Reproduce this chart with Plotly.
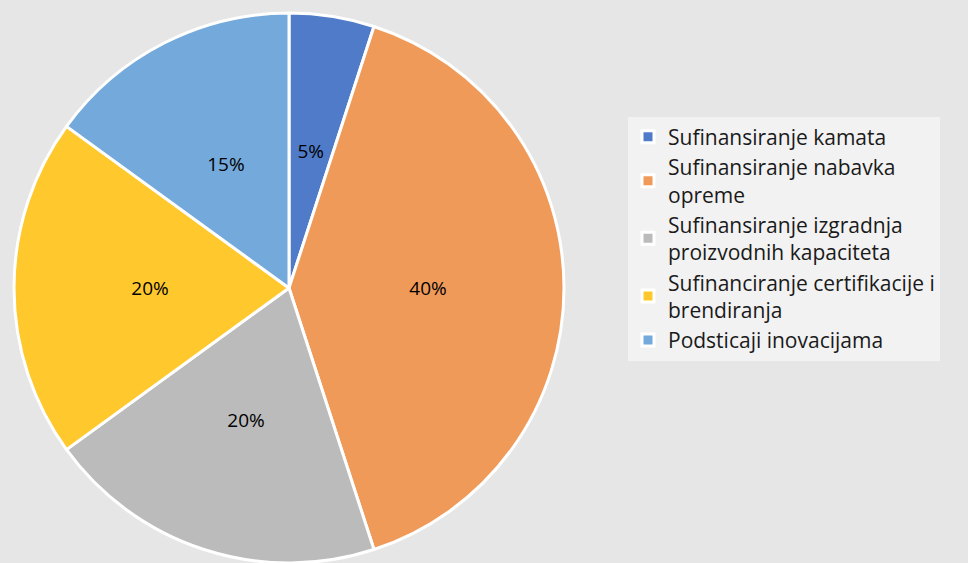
import math
import plotly.graph_objects as go

# podaci sa grafikona
kategorije = [
    "Sufinansiranje kamata",
    "Sufinansiranje nabavka<br>opreme",
    "Sufinansiranje izgradnja<br>proizvodnih kapaciteta",
    "Sufinanciranje certifikacije i<br>brendiranja",
    "Podsticaji inovacijama",
]
udjeli = [5, 40, 20, 20, 15]
boje = ["#4F7BC9", "#F09A5A", "#BBBBBB", "#FFC92E", "#74A9DB"]

W, H = 968, 563
cx, cy, R = 289, 288, 275      # centar i radijus pite u pikselima
r_lab = 139                    # natpisi na pola radijusa, kao u Excelu
plot_h = H - 13

fig = go.Figure()

# glavna pita
fig.add_trace(go.Pie(
    labels=kategorije,
    values=udjeli,
    sort=False,
    direction="clockwise",
    rotation=0,
    marker=dict(colors=boje, line=dict(color="white", width=3)),
    textinfo="none",
    domain=dict(x=[(cx - R) / W, (cx + R) / W], y=[0, 1]),
))

# postoci: za svaki isjecak posebna prozirna pita, velika tacno toliko
# da plotly stavi natpis na simetralu na udaljenosti r_lab od centra
ukupno = sum(udjeli)
for i, v in enumerate(udjeli):
    half = math.pi * v / ukupno
    s = math.sin(half) if half < math.pi / 2 else 1
    r_ins = min(s / (1 + s), 0.5)
    r = r_lab / (1 - r_ins)
    tekst = [f"{100 * v / ukupno:.0f}%" if j == i else "" for j in range(len(udjeli))]
    fig.add_trace(go.Pie(
        labels=kategorije,
        values=udjeli,
        sort=False,
        direction="clockwise",
        rotation=0,
        marker=dict(colors=["rgba(0,0,0,0)"] * len(udjeli), line=dict(width=0)),
        text=tekst,
        textinfo="text",
        textposition="inside",
        insidetextorientation="horizontal",
        textfont=dict(size=19, color="black", family="Open Sans, sans-serif"),
        hoverinfo="skip",
        showlegend=False,
        domain=dict(x=[(cx - r) / W, (cx + r) / W],
                    y=[0.5 - r / plot_h, 0.5 + r / plot_h]),
    ))

fig.update_layout(
    width=W,
    height=H,
    margin=dict(l=0, r=0, t=13, b=0),
    paper_bgcolor="#e6e6e6",
    plot_bgcolor="#e6e6e6",
    font=dict(family="Open Sans, sans-serif", color="black"),
    uniformtext=dict(minsize=19, mode="show"),
    legend=dict(
        x=628 / W, y=1 - 231 / H, xanchor="left", yanchor="middle",
        bgcolor="#f2f2f2",
        font=dict(size=21, color="#1a1a1a", family="Open Sans, sans-serif"),
        itemwidth=30,
        traceorder="normal",
    ),
)

# bez bijelog ruba oko grafikona
fig.write_html("out.html", config={"displayModeBar": False},
               post_script="document.body.style.margin='0';")
